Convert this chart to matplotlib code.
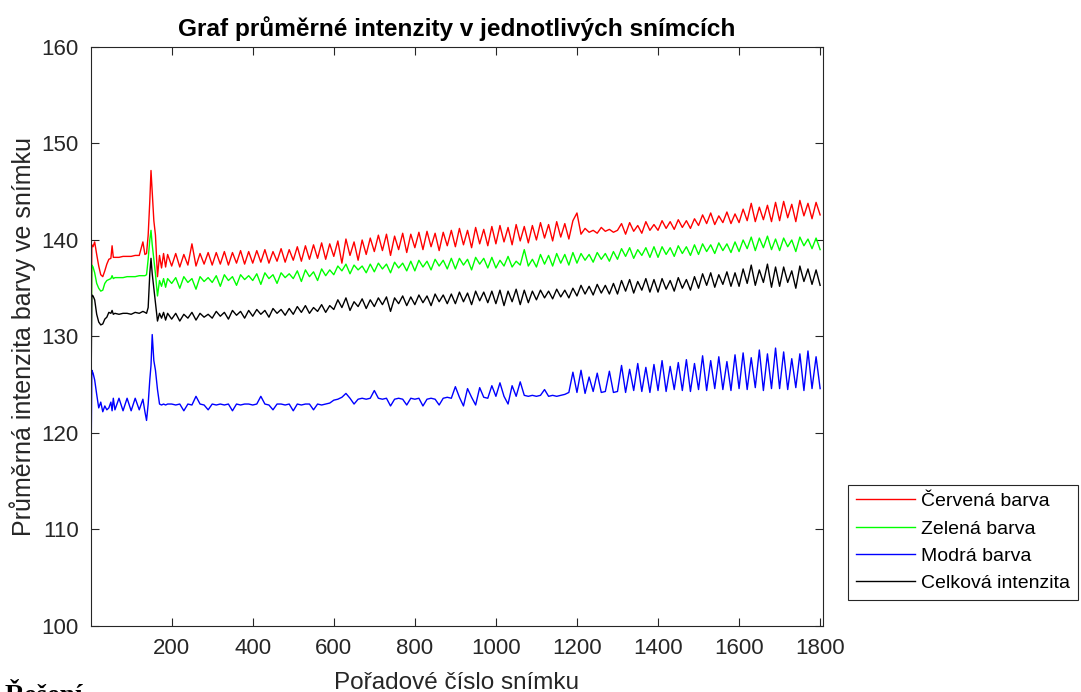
import matplotlib
matplotlib.use('Agg')
import matplotlib.pyplot as plt

# frame numbers: detailed start, then every 10th frame
early_frames = [1, 3, 6, 10, 15, 20, 25, 30, 35, 40, 45, 50, 53, 56, 60, 70, 80, 90,
                100, 110, 120, 129, 134, 138, 142, 146, 149, 152, 156, 160, 165, 170,
                175, 180, 185, 190]
frames = early_frames + list(range(200, 1801, 10))

red_early = [129.0, 139.5, 139.3, 139.8, 138.5, 137.3, 136.4, 136.2, 136.8, 137.5, 138.0, 138.1,
             139.4, 138.2, 138.2, 138.2, 138.3, 138.3, 138.3, 138.4, 138.4, 139.8, 138.5, 138.6,
             140.5, 144.0, 147.2, 145.0, 142.0, 140.5, 136.2, 138.4, 137.1, 138.6, 137.2, 138.5]
red_main = [137.3, 138.6, 137.2, 138.5, 137.4, 139.6, 137.3, 138.6, 137.5, 138.7,
            137.4, 138.7, 137.5, 138.8, 137.4, 138.7, 137.6, 138.9, 137.5, 138.8,
            137.6, 138.9, 137.7, 139.0, 137.6, 138.8, 137.8, 139.1, 137.7, 139.0,
            137.9, 139.3, 137.8, 139.4, 138.0, 139.5, 138.1, 139.7, 138.0, 139.6,
            138.3, 139.9, 137.6, 140.1, 138.4, 139.8, 137.9, 140.0, 138.5, 140.2,
            138.8, 140.5, 138.9, 140.6, 138.4, 140.4, 139.0, 140.7, 138.7, 140.6,
            139.2, 140.8, 139.0, 140.9, 139.3, 140.7, 138.9, 140.8, 139.4, 141.0,
            139.3, 141.2, 139.5, 141.0, 139.2, 141.3, 139.6, 141.1, 139.4, 141.4,
            139.6, 141.5, 139.8, 141.3, 139.5, 141.6, 139.9, 141.4, 139.7, 141.5,
            140.0, 141.8, 140.2, 141.6, 139.9, 141.9, 140.3, 141.7, 140.1, 142.0,
            142.8, 140.6, 141.2, 140.8, 141.0, 140.7, 141.3, 140.9, 141.1, 140.8,
            141.0, 141.7, 140.6, 141.8, 140.9, 141.5, 140.7, 141.9, 141.0, 141.6,
            141.0, 142.0, 141.2, 141.9, 141.1, 142.1, 141.3, 142.0, 141.2, 142.2,
            141.5, 142.6, 141.7, 142.8, 141.6, 142.5, 141.8, 142.9, 141.7, 142.7,
            141.8, 143.2, 142.0, 143.8, 141.9, 143.4, 142.1, 143.6, 141.9, 143.9,
            142.0, 144.0, 142.3, 143.7, 141.9, 144.1, 142.5, 143.8, 142.2, 143.9,
            142.6]

green_early = [127.0, 137.4, 137.2, 136.6, 135.5, 135.0, 134.7, 134.8, 135.5, 135.8, 135.9, 136.0,
               136.3, 136.0, 136.1, 136.1, 136.1, 136.2, 136.2, 136.2, 136.3, 136.3, 136.3, 136.4,
               138.0, 140.0, 141.0, 139.5, 138.0, 136.5, 134.2, 135.8, 135.2, 136.0, 135.1, 136.0]
green_main = [135.5, 136.1, 135.0, 136.2, 135.6, 136.0, 134.9, 136.2, 135.7, 136.1,
              135.6, 136.3, 135.2, 136.4, 135.8, 136.2, 135.3, 136.4, 135.9, 136.3,
              135.8, 136.5, 135.4, 136.6, 136.0, 136.4, 135.5, 136.6, 136.1, 136.5,
              136.0, 136.8, 135.7, 136.9, 136.2, 136.7, 135.8, 137.0, 136.3, 136.9,
              136.4, 137.3, 136.8, 137.5, 136.5, 137.4, 136.9, 137.3, 136.6, 137.5,
              136.7, 137.6, 137.0, 137.5, 136.6, 137.7, 137.1, 137.6, 136.8, 137.8,
              136.8, 137.9, 137.2, 137.8, 136.9, 138.0, 137.3, 137.9, 137.0, 138.1,
              137.0, 138.1, 137.4, 138.0, 136.9, 138.2, 137.5, 138.1, 137.1, 138.2,
              137.1, 137.9, 137.3, 138.3, 137.2, 137.8, 137.4, 139.0, 137.3, 138.0,
              137.2, 138.5, 137.5, 138.4, 137.3, 138.6, 137.6, 138.5, 137.4, 138.7,
              137.6, 138.6, 137.9, 138.5, 137.7, 138.7, 138.0, 138.6, 137.8, 138.8,
              138.0, 139.1, 138.3, 139.2, 138.1, 139.0, 138.4, 139.2, 138.2, 139.3,
              138.2, 139.3, 138.5, 139.2, 138.3, 139.4, 138.6, 139.3, 138.4, 139.5,
              138.5, 139.6, 138.8, 139.5, 138.6, 139.7, 138.9, 139.6, 138.7, 139.8,
              138.8, 140.0, 139.1, 140.3, 138.9, 140.2, 139.2, 140.4, 139.0, 140.1,
              138.9, 140.2, 139.3, 140.0, 138.8, 140.3, 139.4, 140.1, 139.1, 140.2,
              139.0]

blue_early = [116.3, 126.5, 126.2, 125.5, 124.0, 122.6, 123.2, 122.2, 122.8, 122.4, 122.6, 123.2,
              122.3, 123.6, 122.4, 123.6, 122.3, 123.6, 122.3, 123.6, 122.4, 123.5, 122.2, 121.3,
              123.0, 125.5, 127.0, 130.2, 127.5, 126.5, 124.5, 123.0, 122.9, 123.0, 122.9, 123.0]
blue_main = [123.0, 122.9, 123.0, 122.3, 123.0, 122.9, 123.8, 123.0, 122.9, 122.4,
             123.0, 122.9, 123.0, 122.9, 123.0, 122.3, 123.0, 122.9, 123.0, 123.0,
             122.9, 123.0, 123.8, 123.0, 122.9, 122.4, 123.0, 123.0, 122.9, 123.0,
             122.3, 123.0, 122.9, 123.0, 123.0, 122.4, 123.0, 122.9, 123.0, 123.1,
             123.4, 123.5, 123.7, 124.1, 123.6, 123.0, 123.5, 123.6, 123.5, 123.6,
             124.4, 123.6, 123.5, 123.6, 122.8, 123.5, 123.6, 123.5, 122.9, 123.6,
             123.5, 123.6, 122.8, 123.5, 123.6, 123.5, 122.9, 123.6, 123.7, 123.6,
             124.8, 123.7, 122.8, 124.6, 123.7, 122.9, 124.7, 123.7, 123.6, 124.9,
             123.8, 125.2, 123.8, 123.0, 124.9, 123.8, 125.3, 123.9, 123.8, 123.9,
             123.8, 123.9, 124.5, 123.8, 123.9, 123.8, 123.9, 124.0, 124.2, 126.3,
             124.2, 126.5, 124.1, 125.8, 124.3, 126.2, 124.2, 124.3, 126.4, 124.2,
             124.3, 127.0, 124.2, 126.6, 124.4, 127.2, 124.3, 126.8, 124.2, 127.1,
             124.4, 127.5, 124.3, 126.9, 124.5, 127.3, 124.4, 127.6, 124.3, 127.2,
             124.5, 128.0, 124.4, 127.5, 124.6, 127.9, 124.5, 127.4, 124.4, 128.1,
             124.6, 128.3, 124.5, 127.8, 124.7, 128.6, 124.4, 128.2, 124.6, 128.8,
             124.6, 128.4, 124.5, 127.7, 124.7, 128.2, 124.4, 128.5, 124.6, 127.9,
             124.6]

black_early = [124.0, 134.3, 134.2, 133.8, 132.3, 131.5, 131.2, 131.3, 131.8, 132.0, 132.5, 132.4,
               132.7, 132.3, 132.4, 132.3, 132.4, 132.4, 132.3, 132.5, 132.4, 132.6, 132.5, 132.4,
               133.0, 136.5, 138.1, 136.5, 135.0, 133.5, 131.6, 132.4, 131.9, 132.5, 131.7, 132.4]
black_main = [131.8, 132.4, 131.6, 132.3, 131.9, 132.5, 131.7, 132.4, 132.0, 132.3,
              131.9, 132.6, 132.1, 132.5, 131.8, 132.7, 132.2, 132.6, 131.9, 132.7,
              132.1, 132.8, 132.3, 132.7, 132.0, 132.9, 132.4, 132.8, 132.2, 132.9,
              132.3, 133.1, 132.5, 133.2, 132.4, 133.0, 132.6, 133.3, 132.5, 133.2,
              132.8, 133.8, 133.0, 134.0, 132.7, 133.6, 133.1, 133.9, 132.9, 133.8,
              133.1, 134.0, 133.3, 134.1, 132.6, 134.0, 133.4, 134.2, 133.2, 134.1,
              133.3, 134.3, 133.5, 134.2, 133.2, 134.4, 133.6, 134.3, 133.4, 134.4,
              133.4, 134.6, 133.6, 134.5, 133.3, 134.7, 133.7, 134.6, 133.5, 134.7,
              133.4, 134.8, 133.2, 134.7, 133.6, 134.9, 133.3, 134.8, 133.5, 134.7,
              133.8, 134.8, 134.0, 134.7, 133.9, 134.9, 134.1, 134.8, 134.0, 135.0,
              134.2, 135.3, 134.4, 135.2, 134.3, 135.4, 134.5, 135.3, 134.4, 135.5,
              134.4, 135.8, 134.7, 135.9, 134.5, 135.7, 134.8, 136.0, 134.6, 135.9,
              134.6, 136.0, 134.9, 135.8, 134.7, 136.1, 135.0, 135.9, 134.8, 136.2,
              135.0, 136.5, 135.3, 136.6, 135.1, 136.4, 135.4, 136.7, 135.2, 136.6,
              135.2, 137.0, 135.5, 137.4, 135.3, 136.9, 135.6, 137.5, 135.1, 137.2,
              135.2, 137.2, 135.6, 136.8, 135.0, 137.3, 135.7, 137.0, 135.4, 136.9,
              135.3]

labels = ['Červená barva', 'Zelená barva', 'Modrá barva', 'Celková intenzita']
colors = ['#ff0000', '#00ff00', '#0000ff', '#000000']
series = [red_early + red_main, green_early + green_main,
          blue_early + blue_main, black_early + black_main]

plt.rcParams['font.family'] = ['Liberation Sans', 'DejaVu Sans']

fig = plt.figure(figsize=(10.81, 6.92), dpi=100)
ax = fig.add_axes([0.0842, 0.0954, 0.6771, 0.8367])

for vals, c, lab in zip(series, colors, labels):
    ax.plot(frames, vals, color=c, lw=1.0, label=lab)

ax.set_xlim(1, 1807)
ax.set_ylim(100, 160)
ax.set_xticks(range(200, 1801, 200))
ax.set_yticks(range(100, 161, 10))
ax.tick_params(direction='in', length=6, width=0.8, top=True, right=True,
               labelsize=16, colors='#262626', pad=9)
for sp in ax.spines.values():
    sp.set_color('#262626')
    sp.set_linewidth(0.8)

ax.set_title('Graf průměrné intenzity v jednotlivých snímcích', fontsize=17.6,
             fontweight='bold', pad=8)
ax.set_xlabel('Pořadové číslo snímku', fontsize=17.5, color='#262626', labelpad=9)
ax.set_ylabel('Průměrná intenzita barvy ve snímku', fontsize=18, color='#262626', labelpad=4)

leg = ax.legend(loc='lower left', bbox_to_anchor=(0.7845, 0.133),
                bbox_transform=fig.transFigure, fontsize=14, fancybox=False,
                framealpha=1, edgecolor='#262626', handlelength=3.05,
                borderaxespad=0, labelspacing=0.5, handletextpad=0.3,
                borderpad=0.4)
leg.get_frame().set_linewidth(0.8)

fig.text(0.004, 0.011, 'Řešení', family='Liberation Serif', fontweight='bold',
         fontsize=20, va='top', ha='left')

fig.savefig('out.png', dpi=100)
